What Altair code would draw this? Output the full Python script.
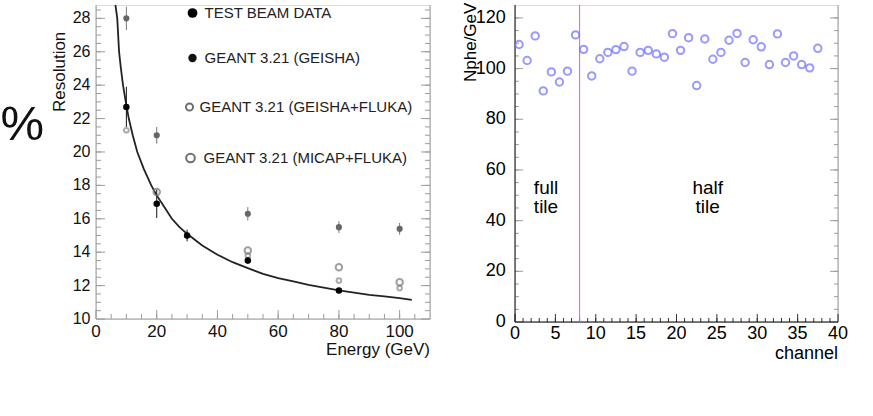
import altair as alt
import pandas as pd

# ---------------- Energy resolution vs beam energy ----------------
beam_energy = [10, 20, 30, 50, 80]
beam_res = [22.7, 16.9, 15.0, 13.5, 11.7]
beam_err = [1.2, 0.85, 0.35, 0.2, 0.15]

geisha_energy = [10, 20, 50, 80, 100]
geisha_res = [28.0, 21.0, 16.3, 15.5, 15.4]
geisha_err = [0.7, 0.5, 0.4, 0.35, 0.35]

fluka_energy = [10, 50, 80, 100]
fluka_res = [21.3, 13.8, 12.3, 11.85]

micap_energy = [20, 50, 80, 100]
micap_res = [17.6, 14.1, 13.1, 12.2]

fit_energy = [6.4, 7.0, 7.6, 8.2, 8.9, 9.8, 10.8, 12.1, 13.6, 15.7, 18.2, 20,
              22.5, 25, 27.5, 30, 35, 40, 45, 50, 55, 60, 65, 70, 75, 80, 85,
              90, 95, 100, 104]
fit_res = [28.8, 28.0, 26.0, 25.0, 24.0, 23.0, 22.0, 21.0, 20.0, 19.0, 18.0,
           17.4, 16.7, 16.0, 15.5, 15.1, 14.4, 13.85, 13.4, 13.05, 12.7, 12.45,
           12.25, 12.05, 11.88, 11.72, 11.58, 11.45, 11.35, 11.25, 11.15]

legend_labels = ["TEST BEAM DATA", "GEANT 3.21 (GEISHA)",
                 "GEANT 3.21 (GEISHA+FLUKA)", "GEANT 3.21 (MICAP+FLUKA)"]

energy_major = [0, 20, 40, 60, 80, 100]
energy_minor = [5 * i for i in range(1, 22)]
res_major = [10, 12, 14, 16, 18, 20, 22, 24, 26, 28]
res_minor = [10 + 0.5 * i for i in range(1, 38)]

# ---------------- Photoelectron yield per channel ----------------
channel = [0.5, 1.5, 2.5, 3.5, 4.5, 5.5, 6.5, 7.5, 8.5, 9.5, 10.5, 11.5, 12.5,
           13.5, 14.5, 15.5, 16.5, 17.5, 18.5, 19.5, 20.5, 21.5, 22.5, 23.5,
           24.5, 25.5, 26.5, 27.5, 28.5, 29.5, 30.5, 31.5, 32.5, 33.5, 34.5,
           35.5, 36.5, 37.5]
nphe = [109.5, 103.2, 112.9, 91.2, 98.7, 94.7, 99.0, 113.3, 107.6, 97.1,
        103.9, 106.4, 107.5, 108.7, 99.0, 106.4, 107.2, 105.8, 104.5, 113.8,
        107.2, 112.2, 93.3, 111.7, 103.7, 106.4, 111.2, 113.9, 102.4, 111.4,
        108.6, 101.6, 113.7, 102.4, 105.0, 101.6, 100.3, 108.0]
tile_boundary = [8]
region_labels = ["full", "tile", "half", "tile"]

channel_major = [0, 5, 10, 15, 20, 25, 30, 35, 40]
channel_minor = list(range(1, 40))
nphe_major = [0, 20, 40, 60, 80, 100, 120]
nphe_minor = [5 * i for i in range(1, 25)]

# ---------------- panel geometry / style ----------------
W1, H1 = 334, 314
W2, H2 = 323, 317
E_MAX, R_MIN, R_MAX = 110, 10, 28.8
C_MAX, V_MAX = 40, 125.1
PE, PR = W1 / E_MAX, H1 / (R_MAX - R_MIN)   # pixels per data unit
PC, PV = W2 / C_MAX, H2 / V_MAX
GREY = "#9c9c9c"

xs1 = alt.Scale(domain=[0, E_MAX], nice=False, zero=False)
ys1 = alt.Scale(domain=[R_MIN, R_MAX], nice=False, zero=False)
xs2 = alt.Scale(domain=[0, C_MAX], nice=False, zero=False)
ys2 = alt.Scale(domain=[0, V_MAX], nice=False, zero=False)


def segments(rows, xs, ys, color):
    """Straight frame lines / ticks given as (x, y, x2, y2) in data units."""
    df = pd.DataFrame(rows, columns=["x", "y", "x2", "y2"])
    return alt.Chart(df).mark_rule(color=color).encode(
        x=alt.X("x:Q", scale=xs, axis=None),
        y=alt.Y("y:Q", scale=ys, axis=None),
        x2="x2", y2="y2")


def texts(df, xs, ys, **style):
    return alt.Chart(df).mark_text(**style).encode(
        x=alt.X("x:Q", scale=xs, axis=None),
        y=alt.Y("y:Q", scale=ys, axis=None),
        text="t:N")


# ---------------- left panel ----------------
beam = pd.DataFrame({"E": beam_energy, "R": beam_res, "err": beam_err})
beam["lo"] = beam["R"] - beam["err"]
beam["hi"] = beam["R"] + beam["err"]
geisha = pd.DataFrame({"E": geisha_energy, "R": geisha_res, "err": geisha_err})
geisha["lo"] = geisha["R"] - geisha["err"]
geisha["hi"] = geisha["R"] + geisha["err"]
fluka = pd.DataFrame({"E": fluka_energy, "R": fluka_res})
micap = pd.DataFrame({"E": micap_energy, "R": micap_res})
fit = pd.DataFrame({"E": fit_energy, "R": fit_res})

X1 = alt.X("E:Q", scale=xs1, axis=None)
Y1 = alt.Y("R:Q", scale=ys1, axis=None)

# frame and inward ticks
frame1 = [(0, R_MIN, 0, R_MAX), (0, R_MIN, E_MAX, R_MIN),
          (E_MAX, R_MIN, E_MAX, R_MAX)]
ticks1 = []
for e in energy_major:
    ticks1.append((e, R_MIN, e, R_MIN + 9 / PR))
for e in energy_minor:
    ticks1.append((e, R_MIN, e, R_MIN + 5 / PR))
for r in res_major:
    ticks1.append((0, r, 9 / PE, r))
    ticks1.append((E_MAX, r, E_MAX - 9 / PE, r))
for r in res_minor:
    ticks1.append((0, r, 5 / PE, r))
    ticks1.append((E_MAX, r, E_MAX - 5 / PE, r))

xlab1 = pd.DataFrame({"x": energy_major, "y": R_MIN - 12.7 / PR,
                      "t": [str(v) for v in energy_major]})
ylab1 = pd.DataFrame({"x": -5.5 / PE, "y": res_major,
                      "t": [str(v) for v in res_major]})
xtitle1 = pd.DataFrame({"x": [E_MAX], "y": [R_MIN - 31 / PR],
                        "t": ["Energy  (GeV)"]})
ytitle1 = pd.DataFrame({"x": [-36.5 / PE], "y": [R_MIN + (H1 - 107) / PR],
                        "t": ["Resolution"]})
percent = pd.DataFrame({"x": [-95.5 / PE], "y": [R_MIN + (H1 - 135) / PR],
                        "t": ["%"]})

fit_line = alt.Chart(fit).mark_line(color="#222", strokeWidth=1.8).encode(
    x=X1, y=Y1)
geisha_bars = alt.Chart(geisha).mark_rule(color="#777").encode(
    x=X1, y=alt.Y("lo:Q", scale=ys1, axis=None), y2="hi")
beam_bars = alt.Chart(beam).mark_rule(color="#111").encode(
    x=X1, y=alt.Y("lo:Q", scale=ys1, axis=None), y2="hi")
fluka_pts = alt.Chart(fluka).mark_point(
    filled=False, color="#8a8a8a", size=22).encode(x=X1, y=Y1)
micap_pts = alt.Chart(micap).mark_point(
    filled=False, color="#777", size=42).encode(x=X1, y=Y1)
geisha_pts = alt.Chart(geisha).mark_point(
    filled=True, color="#666", size=38, opacity=1).encode(x=X1, y=Y1)
beam_pts = alt.Chart(beam).mark_point(
    filled=True, color="#000", size=42, opacity=1).encode(x=X1, y=Y1)

# in-frame legend, placed in the panel's data coordinates
leg = pd.DataFrame({
    "t": legend_labels,
    "E": [96.5 / PE, 96.5 / PE, 93.5 / PE, 94.5 / PE],
    "x": [108.5 / PE, 108.5 / PE, 103.5 / PE, 107.5 / PE],
    "R": [R_MIN + (H1 - sy) / PR for sy in (8, 53, 102, 153)],
})
leg["y"] = leg["R"]
leg_text = texts(leg, xs1, ys1, fontSize=15, color="#222", align="left",
                 baseline="middle")
leg_sym = [
    alt.Chart(leg.iloc[[0]]).mark_point(filled=True, color="#000", size=95,
                                        opacity=1),
    alt.Chart(leg.iloc[[1]]).mark_point(filled=True, color="#111", size=70,
                                        opacity=1),
    alt.Chart(leg.iloc[[2]]).mark_point(filled=False, color="#333", size=50),
    alt.Chart(leg.iloc[[3]]).mark_point(filled=False, color="#333", size=75),
]
leg_sym = [s.encode(x=X1, y=Y1) for s in leg_sym]

left = alt.layer(
    segments(frame1, xs1, ys1, GREY),
    segments(ticks1, xs1, ys1, GREY),
    fit_line, geisha_bars, beam_bars, fluka_pts, micap_pts, geisha_pts,
    beam_pts, leg_text, *leg_sym,
    texts(xlab1, xs1, ys1, fontSize=17, color="#111", align="center",
          baseline="middle"),
    texts(ylab1, xs1, ys1, fontSize=16, color="#111", align="right",
          baseline="middle"),
    texts(xtitle1, xs1, ys1, fontSize=17, color="#111", align="right",
          baseline="middle"),
    texts(ytitle1, xs1, ys1, fontSize=17, color="#111", align="left",
          baseline="middle", angle=270),
    texts(percent, xs1, ys1, fontSize=49, color="#111", align="left",
          baseline="alphabetic"),
).properties(width=W1, height=H1)

# ---------------- right panel ----------------
yield_df = pd.DataFrame({"channel": channel, "nphe": nphe})
bound_df = pd.DataFrame({"channel": tile_boundary})

X2 = alt.X("channel:Q", scale=xs2, axis=None)
Y2 = alt.Y("nphe:Q", scale=ys2, axis=None)

frame2_dark = [(0, 0, 0, V_MAX), (0, 0, C_MAX, 0)]
frame2_grey = [(C_MAX, 0, C_MAX, V_MAX)]
ticks2_dark = ([(c, 0, c, 8 / PV) for c in channel_major]
               + [(c, 0, c, 4 / PV) for c in channel_minor])
ticks2_grey = []
for v in nphe_major:
    ticks2_grey.append((0, v, 8 / PC, v))
    ticks2_grey.append((C_MAX, v, C_MAX - 8 / PC, v))
for v in nphe_minor:
    ticks2_grey.append((0, v, 4 / PC, v))
    ticks2_grey.append((C_MAX, v, C_MAX - 4 / PC, v))

xlab2 = pd.DataFrame({"x": channel_major, "y": -11.5 / PV,
                      "t": [str(v) for v in channel_major]})
ylab2 = pd.DataFrame({"x": -9.3 / PC, "y": nphe_major,
                      "t": [str(v) for v in nphe_major]})
xtitle2 = pd.DataFrame({"x": [C_MAX], "y": [-31.5 / PV], "t": ["channel"]})
ytitle2 = pd.DataFrame({"x": [-44.3 / PC], "y": [(H2 - 77) / PV],
                        "t": ["Nphe/GeV"]})
notes = pd.DataFrame({"t": region_labels,
                      "x": [31 / PC, 31 / PC, 192.7 / PC, 192.7 / PC],
                      "y": [(H2 - 183) / PV, (H2 - 202) / PV,
                            (H2 - 183) / PV, (H2 - 202) / PV]})

right = alt.layer(
    segments(frame2_grey, xs2, ys2, GREY),
    segments(ticks2_grey, xs2, ys2, GREY),
    segments(ticks2_dark, xs2, ys2, "#333"),
    segments(frame2_dark, xs2, ys2, "#000"),
    alt.Chart(bound_df).mark_rule(color="#ff44ff").encode(x=X2),
    alt.Chart(yield_df).mark_point(
        filled=False, color="#6e6eff", size=55).encode(x=X2, y=Y2),
    texts(notes, xs2, ys2, fontSize=19, color="#000", align="center",
          baseline="middle"),
    texts(xlab2, xs2, ys2, fontSize=18, color="#000", align="center",
          baseline="middle"),
    texts(ylab2, xs2, ys2, fontSize=18, color="#000", align="right",
          baseline="middle"),
    texts(xtitle2, xs2, ys2, fontSize=18, color="#000", align="right",
          baseline="middle"),
    texts(ytitle2, xs2, ys2, fontSize=17, color="#000", align="left",
          baseline="middle", angle=270),
).properties(width=W2, height=H2)

chart = alt.hconcat(left, right, spacing=30).properties(padding=0)

chart.save("out.html", embed_options={"renderer": "svg", "actions": False})
